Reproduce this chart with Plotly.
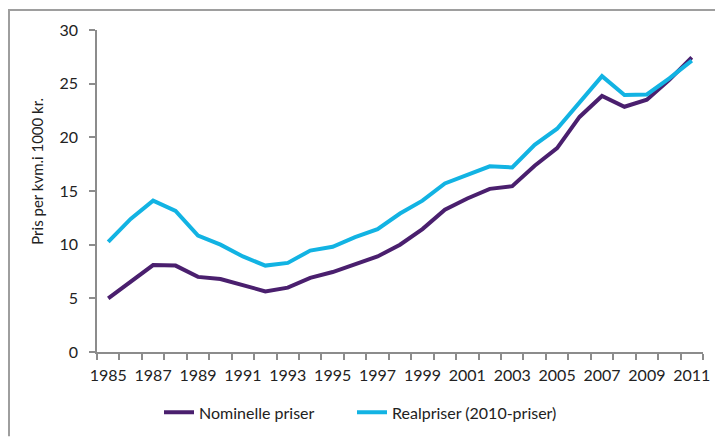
import plotly.graph_objects as go

years = list(range(1985, 2012))
nominelle = [5.0, 6.6, 8.1, 8.05, 7.0, 6.8, 6.2, 5.65, 6.0, 6.9, 7.45, 8.15, 8.9, 10.0,
             11.45, 13.25, 14.3, 15.2, 15.45, 17.35, 19.0, 21.9, 23.85, 22.85, 23.5, 25.35, 27.45]
realpriser = [10.25, 12.4, 14.1, 13.15, 10.85, 10.0, 8.9, 8.05, 8.3, 9.45, 9.8, 10.7, 11.45, 12.9,
              14.1, 15.7, 16.5, 17.3, 17.2, 19.3, 20.8, 23.2, 25.7, 23.95, 24.0, 25.5, 27.15]
x_ticklabels = [str(y) for y in range(1985, 2012, 2)]
y_ticks = [0, 5, 10, 15, 20, 25, 30]

PURPLE = "#4A1F6E"
CYAN = "#12B3E3"
AXIS = "#8C8C8C"
FONT = "Lato"

# plot area in pixels
W, H = 715, 437
L, R, T, B = 97, 12, 30, 84.5
pw, ph = W - L - R, H - T - B

def px_x(px):
    return (px - L) / pw

def px_y(py):
    return (H - B - py) / ph

fig = go.Figure()
fig.add_trace(go.Scatter(x=years, y=nominelle, mode="lines", name="Nominelle priser",
                         line=dict(color=PURPLE, width=4), legend="legend"))
fig.add_trace(go.Scatter(x=years, y=realpriser, mode="lines", name="Realpriser (2010-priser)",
                         line=dict(color=CYAN, width=4), legend="legend2"))

legend_common = dict(orientation="h", xanchor="left", y=px_y(413), yanchor="middle",
                     font=dict(size=16), bgcolor="rgba(0,0,0,0)")

fig.update_layout(
    width=W, height=H,
    margin=dict(l=L, r=R, t=T, b=B, pad=0, autoexpand=False),
    paper_bgcolor="white", plot_bgcolor="white",
    font=dict(family=FONT, size=16, color="#222222"),
    showlegend=True,
    legend=dict(x=px_x(159), **legend_common),
    legend2=dict(x=px_x(352), **legend_common),
    xaxis=dict(range=[1984.5, 2011.5], tickmode="array",
               tickvals=[int(t) for t in x_ticklabels], ticktext=x_ticklabels,
               ticks="", showgrid=False, zeroline=False,
               showline=True, linecolor=AXIS, linewidth=1.5,
               ticklabelstandoff=8,
               minor=dict(tickmode="array",
                          tickvals=[y - 0.5 for y in years] + [years[-1] + 0.5],
                          ticks="outside", ticklen=6, tickcolor=AXIS, tickwidth=1.5,
                          showgrid=False)),
    yaxis=dict(range=[0, 30], tickmode="array", tickvals=y_ticks,
               ticks="outside", ticklen=6, tickcolor=AXIS, tickwidth=1.5,
               showgrid=False, zeroline=False,
               showline=True, linecolor=AXIS, linewidth=1.5,
               ticklabelstandoff=8),
)

fig.add_annotation(text="Pris per kvm.i 1000 kr.", textangle=-90,
                   xref="paper", yref="paper", x=px_x(37), y=px_y(172),
                   xanchor="center", yanchor="middle",
                   showarrow=False, font=dict(size=15, family=FONT, color="#222222"))

# outer frame lines (top and left)
fig.add_shape(type="line", xref="paper", yref="paper",
              x0=px_x(8), x1=px_x(715), y0=px_y(10), y1=px_y(10),
              line=dict(color="#9E9E9E", width=2))
fig.add_shape(type="line", xref="paper", yref="paper",
              x0=px_x(9), x1=px_x(9), y0=px_y(10), y1=px_y(437),
              line=dict(color="#9E9E9E", width=2))

fig.write_html("out.html", config={"displayModeBar": False},
               post_script="document.body.style.margin='0';document.body.style.padding='0';")
